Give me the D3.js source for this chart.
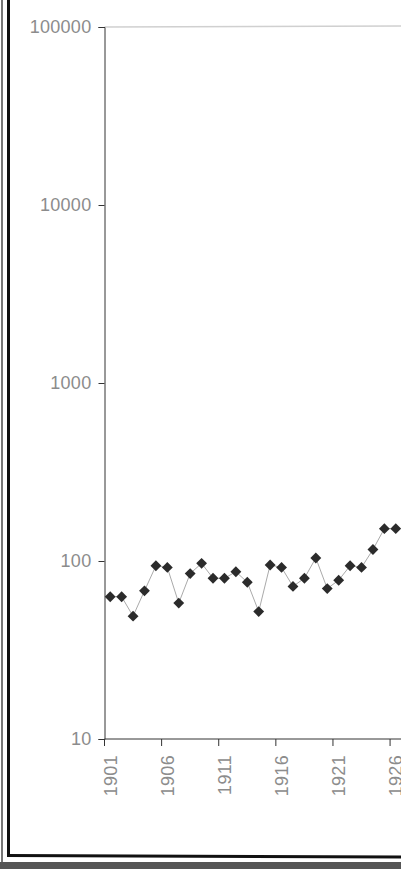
<!DOCTYPE html>
<html>
<head>
<meta charset="utf-8">
<script src="https://cdn.jsdelivr.net/npm/d3@7"></script>
<style>
  body { margin: 0; background: #fff; }
  svg { display: block; }
</style>
</head>
<body>
<svg></svg>
<script>
const years = d3.range(1901, 1927)
const values = [63, 63, 49, 68, 94, 92, 58, 85, 97, 80, 80, 87, 76, 52, 95, 92, 72, 80, 104, 70, 78, 94, 92, 116, 152, 152]
const yTicks = [10, 100, 1000, 10000, 100000]
const xLabels = [1901, 1906, 1911, 1916, 1921, 1926]

const width = 401
const height = 869

const svg = d3.select('svg').attr('width', width).attr('height', height)

// scales
const x = d3.scaleBand().domain(years).range([104.5, 401.5])
const y = d3.scaleLog().domain([10, 100000]).range([739, 27])

// picture frame
svg.append('rect').attr('x', 0).attr('y', 0).attr('width', width).attr('height', height).attr('fill', '#fff')
svg.append('line').attr('x1', 2).attr('x2', 2).attr('y1', 0).attr('y2', 862).attr('stroke', '#777').attr('stroke-width', 2)
svg.append('line').attr('x1', 8.5).attr('x2', 8.5).attr('y1', 0).attr('y2', 857).attr('stroke', '#111').attr('stroke-width', 3)
svg.append('line').attr('x1', 7).attr('x2', width).attr('y1', 855.5).attr('y2', 857).attr('stroke', '#111').attr('stroke-width', 3)
svg.append('rect').attr('x', 0).attr('y', 862).attr('width', width).attr('height', 7).attr('fill', '#555')

// top border of plot area
svg.append('line').attr('x1', 104.5).attr('x2', width).attr('y1', 27).attr('y2', 26)
  .attr('stroke', '#d0d0d0').attr('stroke-width', 1.5)

const font = 'Liberation Sans, Arial, sans-serif'

// y axis
const yAxis = d3.axisLeft(y).tickValues(yTicks).tickFormat(d3.format('d')).tickSize(6).tickPadding(7)
const gy = svg.append('g').attr('transform', 'translate(104.5,0)').call(yAxis)
gy.select('.domain').attr('stroke', '#333')
gy.selectAll('.tick line').attr('stroke', '#333')
gy.selectAll('.tick text').attr('fill', '#8c8c8c')
  .style('font-family', font).style('font-size', '18px').style('letter-spacing', '0.3px')

// x axis: labels at category centres, ticks at category boundaries
const xAxis = d3.axisBottom(x).tickValues(xLabels).tickSize(0)
const gx = svg.append('g').attr('transform', 'translate(0,739)').call(xAxis)
gx.select('.domain').attr('stroke', '#333').attr('d', 'M104.5,0H' + width)
gx.selectAll('.tick text')
  .attr('transform', 'rotate(-90)')
  .attr('x', -16).attr('y', 0).attr('dy', '0.35em')
  .attr('text-anchor', 'end')
  .attr('fill', '#8c8c8c')
  .style('font-family', font).style('font-size', '18px').style('letter-spacing', '0.3px')
gx.selectAll('.bound').data(xLabels).enter().append('line').attr('class', 'bound')
  .attr('x1', d => x(d)).attr('x2', d => x(d))
  .attr('y1', 0).attr('y2', 7).attr('stroke', '#333')

// series
const line = d3.line().x((d, i) => x(years[i]) + x.bandwidth() / 2).y(d => y(d))
svg.append('path').datum(values).attr('d', line).attr('fill', 'none').attr('stroke', '#aaa').attr('stroke-width', 1)

const diamond = d3.symbol().type(d3.symbolDiamond2).size(75)
svg.selectAll('.pt').data(values).enter().append('path').attr('class', 'pt')
  .attr('transform', (d, i) => `translate(${x(years[i]) + x.bandwidth() / 2},${y(d)})`)
  .attr('d', diamond)
  .attr('fill', '#2b2b2b')
</script>
</body>
</html>
